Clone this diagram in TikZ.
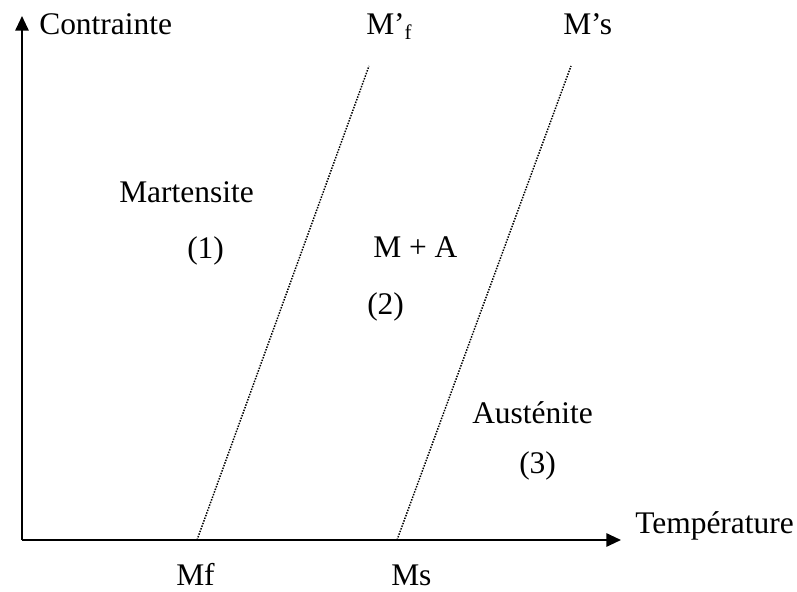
\documentclass[tikz,border=0pt]{standalone}
\usepackage{fontspec}
\setmainfont{Liberation Serif}
\usepackage{tikz}
\usetikzlibrary{arrows.meta}

\tikzset{
	axe/.style={line width=1.4pt,-{Triangle[length=11pt,width=10pt]}},
	frontiere/.style={densely dotted,line width=1.1pt},
	etiquette/.style={anchor=base west,inner sep=0pt,font=\fontsize{23.6}{28}\selectfont}
}

\begin{document}
\begin{tikzpicture}[x=0.75pt,y=-0.75pt]
	\useasboundingbox (0,0) rectangle (797,592);
	% axes
	\coordinate (O) at (22,540);
	\coordinate (ytop) at (22,16);
	\coordinate (xend) at (621,540);
	\draw[axe] (O) -- (ytop);
	\draw[axe] (O) -- (xend);
	% lignes de transformation
	\coordinate (mfbas) at (197,540);
	\coordinate (mfhaut) at (369,66);
	\coordinate (msbas) at (397,540);
	\coordinate (mshaut) at (571,66);
	\draw[frontiere] (mfbas) -- (mfhaut);
	\draw[frontiere] (msbas) -- (mshaut);
	% textes
	\node[etiquette] (contrainte) at (39,35) {Contrainte};
	\node[etiquette] (temperature) at (635,533) {Température};
	\node[etiquette] (mfp) at (366,35) {M’\raisebox{-3.5pt}{\fontsize{15.7}{18}\selectfont f}};
	\node[etiquette] (msp) at (563,35) {M’s};
	\node[etiquette] (mart) at (119,202) {Martensite};
	\node[etiquette] (un) at (187,258) {(1)};
	\node[etiquette] (ma) at (373,257) {M + A};
	\node[etiquette] (deux) at (367,314) {(2)};
	\node[etiquette] (aust) at (472,423) {Austénite};
	\node[etiquette] (trois) at (519,473) {(3)};
	\node[etiquette] (mf) at (176,585) {Mf};
	\node[etiquette] (ms) at (391,585) {Ms};
\end{tikzpicture}
\end{document}
